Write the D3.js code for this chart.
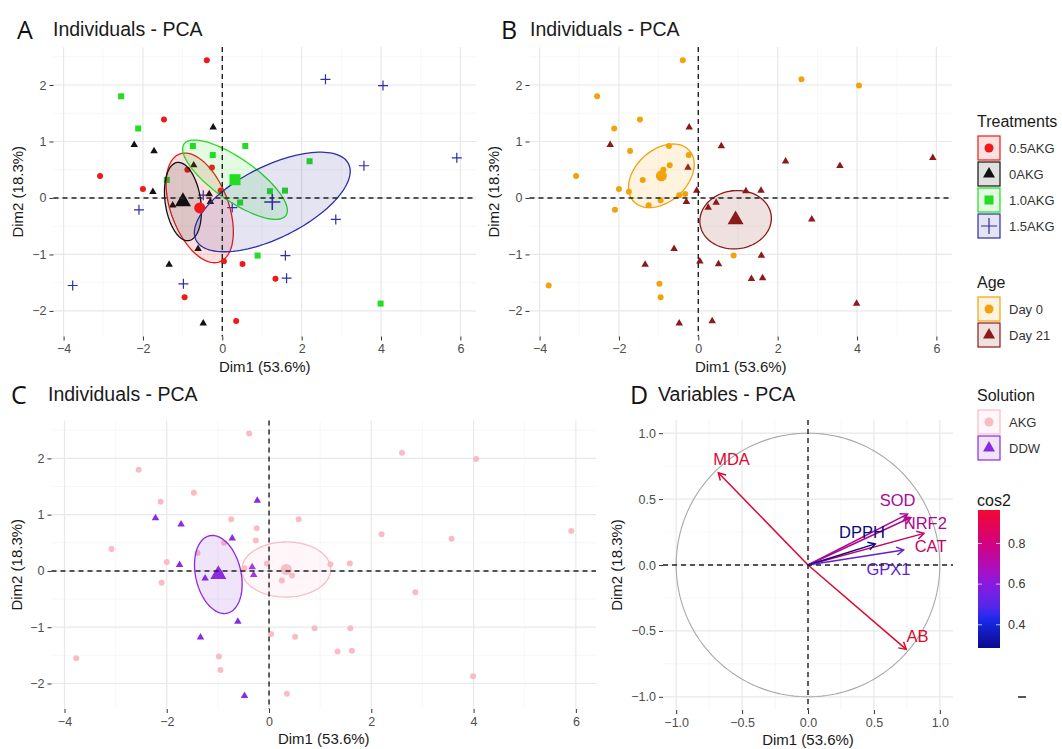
<!DOCTYPE html>
<html>
<head>
<meta charset="utf-8">
<script src="https://cdn.jsdelivr.net/npm/d3@7"></script>
<style>
  body { margin: 0; background: #fff; }
  svg { font-family: "Liberation Sans", Arial, sans-serif; }
</style>
</head>
<body>
<svg id="fig" width="1062" height="749"></svg>
<script>
// individuals: PCA scores (Day 0 first, then Day 21)
const dim1 = [-0.39, 2.60, 4.05, -2.55, -1.47, -2.12, -1.72, -0.74, -0.24, -0.72, -3.08, -1.40,
              -2.00, -1.75, -0.48, -0.33, -0.95, -1.25, -2.10, 0.89, -3.77, -0.98, -0.95, -0.88,
              -0.23, -2.22, 0.58, 2.20, 3.57, 5.91, -0.26, -0.04, 1.20, 1.58, -0.30, 0.45,
              0.25, 2.86, -0.61, 1.59, 0.04, 0.51, -1.34, 1.34, 1.62, 3.99, -0.48, 0.35];
const dim2 = [2.44, 2.10, 1.99, 1.80, 1.39, 1.23, 0.83, 0.92, 0.76, 0.58, 0.39, 0.32,
              0.16, 0.11, 0.05, 0.07, -0.04, -0.13, -0.21, -1.02, -1.55, -1.52, -1.76, 0.50,
              1.25, 0.94, 0.92, 0.65, 0.57, 0.71, 0.54, 0.13, 0.12, 0.13, -0.07, -0.08,
              -0.17, -0.38, -0.90, -1.02, -1.12, -1.17, -1.18, -1.43, -1.42, -1.87, -2.22, -2.18];
const treatment = ["0.5AKG","1.5AKG","1.5AKG","1.0AKG","0.5AKG","1.0AKG","0AKG","1.0AKG","1.0AKG","0AKG","0.5AKG","1.0AKG",
                   "0.5AKG","0AKG","1.5AKG","0AKG","0AKG","0AKG","1.5AKG","1.0AKG","1.5AKG","1.5AKG","0.5AKG","0.5AKG",
                   "0AKG","0AKG","1.0AKG","1.0AKG","1.5AKG","1.5AKG","0.5AKG","0.5AKG","1.0AKG","1.0AKG","0AKG","1.0AKG",
                   "1.5AKG","1.5AKG","0AKG","1.5AKG","0.5AKG","0.5AKG","0AKG","0.5AKG","1.5AKG","1.0AKG","0AKG","0.5AKG"];
const age = ["Day 0","Day 0","Day 0","Day 0","Day 0","Day 0","Day 0","Day 0","Day 0","Day 0","Day 0","Day 0",
             "Day 0","Day 0","Day 0","Day 0","Day 0","Day 0","Day 0","Day 0","Day 0","Day 0","Day 0","Day 0",
             "Day 21","Day 21","Day 21","Day 21","Day 21","Day 21","Day 21","Day 21","Day 21","Day 21","Day 21","Day 21",
             "Day 21","Day 21","Day 21","Day 21","Day 21","Day 21","Day 21","Day 21","Day 21","Day 21","Day 21","Day 21"];
const solution = treatment.map(t => t === "0AKG" ? "DDW" : "AKG");

const trtLevels = ["0.5AKG", "0AKG", "1.0AKG", "1.5AKG"];
const ageLevels = ["Day 0", "Day 21"];
const solLevels = ["AKG", "DDW"];

// variables: coordinates on Dim1/Dim2
const varNames = ["MDA", "AB", "SOD", "NRF2", "CAT", "DPPH", "GPX1"];
const varDim1  = [-0.68, 0.745, 0.755, 0.78, 0.88, 0.51, 0.725];
const varDim2  = [0.70, -0.64, 0.386, 0.36, 0.24, 0.16, 0.114];
const varLabX  = [-0.58, 0.83, 0.68, 0.89, 0.93, 0.41, 0.61];
const varLabY  = [0.80, -0.54, 0.49, 0.32, 0.14, 0.25, -0.03];

const indTicksX = [-4, -2, 0, 2, 4, 6], indMinorX = [-5, -3, -1, 1, 3, 5, 7];
const indTicksY = [-2, -1, 0, 1, 2], indMinorY = [-2.5, -1.5, -0.5, 0.5, 1.5, 2.5];
const varTicks = [-1, -0.5, 0, 0.5, 1], varMinor = [-1.25, -0.75, -0.25, 0.25, 0.75, 1.25];
const cos2Ticks = [0.4, 0.6, 0.8];

const FONT = '"Liberation Sans", Arial, sans-serif';
const svg = d3.select("#fig");

const expand = ([a, b]) => { const m = (b - a) * 0.05; return [a - m, b + m]; };
const xdInd = expand(d3.extent(dim1)), ydInd = expand(d3.extent(dim2));

function sym(shape, s) {
  if (shape === "cross") return `M${-s/2},0H${s/2}M0,${-s/2}V${s/2}`;
  if (shape === "circle") return d3.symbol(d3.symbolCircle, Math.PI * s * s / 4)();
  if (shape === "square") return d3.symbol(d3.symbolSquare, s * s)();
  return d3.symbol(d3.symbolTriangle, Math.sqrt(3) / 4 * s * s)();
}
const smallSz = {circle: 6, triangle: 7.5, square: 6, cross: 10};
const meanSz  = {circle: 11, triangle: 16, square: 11, cross: 16};
const keySz   = {circle: 9, triangle: 12, square: 9, cross: 16};

function styleSym(sel, shape, col) {
  if (shape === "cross") sel.attr("fill", "none").attr("stroke", col).attr("stroke-width", 1.2);
  else sel.attr("fill", col).attr("stroke", "none");
}

function frame(o) {
  const x = d3.scaleLinear().domain(o.xd).range([o.l, o.r]);
  const y = d3.scaleLinear().domain(o.yd).range([o.b, o.t]);
  const g = svg.append("g");
  const inX = v => v >= o.xd[0] && v <= o.xd[1], inY = v => v >= o.yd[0] && v <= o.yd[1];
  const grid = g.append("g");
  grid.selectAll(".mnx").data(o.xm.filter(inX)).join("line")
      .attr("x1", d => x(d)).attr("x2", d => x(d)).attr("y1", o.t).attr("y2", o.b)
      .attr("stroke", "#f3f3f3").attr("stroke-width", 0.7);
  grid.selectAll(".mny").data(o.ym.filter(inY)).join("line")
      .attr("y1", d => y(d)).attr("y2", d => y(d)).attr("x1", o.l).attr("x2", o.r)
      .attr("stroke", "#f3f3f3").attr("stroke-width", 0.7);
  grid.selectAll(".mjx").data(o.xt).join("line")
      .attr("x1", d => x(d)).attr("x2", d => x(d)).attr("y1", o.t).attr("y2", o.b)
      .attr("stroke", "#e8e8e8").attr("stroke-width", 1.2);
  grid.selectAll(".mjy").data(o.yt).join("line")
      .attr("y1", d => y(d)).attr("y2", d => y(d)).attr("x1", o.l).attr("x2", o.r)
      .attr("stroke", "#e8e8e8").attr("stroke-width", 1.2);

  const tidy = a => {
    a.select(".domain").remove();
    a.attr("font-family", FONT).attr("font-size", 12.5);
    a.selectAll("line").attr("stroke", "#333").attr("stroke-width", 1);
    a.selectAll("text").attr("fill", "#4d4d4d");
  };
  g.append("g").attr("transform", `translate(0,${o.b})`)
    .call(d3.axisBottom(x).tickValues(o.xt).tickFormat(o.fmt).tickSize(4).tickPadding(4)).call(tidy);
  g.append("g").attr("transform", `translate(${o.l},0)`)
    .call(d3.axisLeft(y).tickValues(o.yt).tickFormat(o.fmt).tickSize(4).tickPadding(3)).call(tidy);

  g.append("text").attr("x", (o.l + o.r) / 2).attr("y", o.b + 35)
    .attr("text-anchor", "middle").attr("font-size", 15).attr("fill", "#1a1a1a").text("Dim1 (53.6%)");
  g.append("text").attr("transform", `translate(${o.l - o.yoff},${(o.t + o.b) / 2}) rotate(-90)`)
    .attr("text-anchor", "middle").attr("font-size", 15).attr("fill", "#1a1a1a").text("Dim2 (18.3%)");

  g.append("text").attr("x", o.lx).attr("y", o.ty + 3).attr("font-family", '"Open Sans", sans-serif')
    .attr("font-size", 25).attr("fill", "#111").text(o.letter);
  g.append("text").attr("x", o.tx).attr("y", o.ty).attr("font-size", 19.5).attr("fill", "#1a1a1a").text(o.title);
  return {g, x, y, o};
}

function zeroLines(f) {
  const {g, x, y, o} = f;
  g.append("line").attr("x1", x(0)).attr("x2", x(0)).attr("y1", o.t).attr("y2", o.b)
    .attr("stroke", "#222").attr("stroke-width", 1.4).attr("stroke-dasharray", "5,4");
  g.append("line").attr("y1", y(0)).attr("y2", y(0)).attr("x1", o.l).attr("x2", o.r)
    .attr("stroke", "#222").attr("stroke-width", 1.4).attr("stroke-dasharray", "5,4");
}

// 95% confidence ellipse of a group mean
function confEllipse(pts) {
  const n = pts.length, mx = d3.mean(pts, p => p[0]), my = d3.mean(pts, p => p[1]);
  let sxx = 0, syy = 0, sxy = 0;
  pts.forEach(p => { const dx = p[0] - mx, dy = p[1] - my; sxx += dx * dx; syy += dy * dy; sxy += dx * dy; });
  const k = (n - 1) * n;
  sxx /= k; syy /= k; sxy /= k;
  const m = (sxx + syy) / 2, d = Math.sqrt(((sxx - syy) / 2) ** 2 + sxy * sxy);
  const l1 = m + d, l2 = Math.max(m - d, 0), th = 0.5 * Math.atan2(2 * sxy, sxx - syy);
  const t = Math.sqrt(5.991465);
  return d3.range(120).map(i => {
    const a = i / 120 * 2 * Math.PI;
    const u = t * Math.sqrt(l1) * Math.cos(a), v = t * Math.sqrt(l2) * Math.sin(a);
    return [mx + u * Math.cos(th) - v * Math.sin(th), my + u * Math.sin(th) + v * Math.cos(th)];
  });
}

function indPanel(f, groupOf, levels, colors, shapes) {
  const {g, x, y} = f;
  const ids = d3.range(dim1.length);
  const shp = i => shapes[levels.indexOf(groupOf[i])];
  g.append("g").selectAll("path").data(ids).join("path")
    .attr("transform", i => `translate(${x(dim1[i])},${y(dim2[i])})`)
    .attr("d", i => sym(shp(i), smallSz[shp(i)]))
    .each(function (i) { styleSym(d3.select(this), shp(i), colors[groupOf[i]]); });

  const line = d3.line().x(p => x(p[0])).y(p => y(p[1])).curve(d3.curveLinearClosed);
  const means = [];
  levels.forEach((lv, k) => {
    const pts = ids.filter(i => groupOf[i] === lv).map(i => [dim1[i], dim2[i]]);
    g.append("path").attr("d", line(confEllipse(pts)))
      .attr("fill", colors[lv]).attr("fill-opacity", 0.13)
      .attr("stroke", colors[lv]).attr("stroke-width", 1.3);
    means.push({lv, shape: shapes[k], mx: d3.mean(pts, p => p[0]), my: d3.mean(pts, p => p[1])});
  });
  g.append("g").selectAll("path").data(means).join("path")
    .attr("transform", m => `translate(${x(m.mx)},${y(m.my)})`)
    .attr("d", m => sym(m.shape, meanSz[m.shape]))
    .each(function (m) {
      styleSym(d3.select(this), m.shape, colors[m.lv]);
      if (m.shape === "cross") d3.select(this).attr("stroke-width", 1.6);
    });
  zeroLines(f);
}

const fmtInt = d3.format("d");
const base = {xd: xdInd, yd: ydInd, xt: indTicksX, xm: indMinorX, yt: indTicksY, ym: indMinorY, fmt: fmtInt, yoff: 31};

const trtColors = {"0.5AKG": "#f01818", "0AKG": "#111111", "1.0AKG": "#22dd22", "1.5AKG": "#2e2ea6"};
const trtShapes = ["circle", "triangle", "square", "cross"];
const ageColors = {"Day 0": "#f0a30a", "Day 21": "#8b1a1a"};
const ageShapes = ["circle", "triangle"];
const solColors = {"AKG": "#f8bcc6", "DDW": "#8a2be2"};
const solShapes = ["circle", "triangle"];

const fA = frame({...base, l: 53.5, r: 476, t: 47, b: 336.5, letter: "A", lx: 17, tx: 53, ty: 36, title: "Individuals - PCA"});
indPanel(fA, treatment, trtLevels, trtColors, trtShapes);
const fB = frame({...base, l: 529.5, r: 952, t: 47, b: 336.5, letter: "B", lx: 501, tx: 530, ty: 36, title: "Individuals - PCA"});
indPanel(fB, age, ageLevels, ageColors, ageShapes);
const fC = frame({...base, l: 51.5, r: 596, t: 420.5, b: 709, letter: "C", lx: 11, tx: 48, ty: 401, title: "Individuals - PCA", yoff: 30});
indPanel(fC, solution, solLevels, solColors, solShapes);

// variables panel
const cos2 = varNames.map((_, i) => varDim1[i] ** 2 + varDim2[i] ** 2);
const cDom = d3.extent(cos2);
const cAt = p => cDom[0] + (cDom[1] - cDom[0]) * p;
const cos2Color = d3.scaleLinear()
  .domain([cAt(0), cAt(0.22), cAt(0.47), cAt(1)])
  .range(["#0a0a8c", "#1a2cf0", "#8a18e0", "#f20a2e"])
  .interpolate(d3.interpolateLab);

const fD = frame({xd: [-1.1, 1.1], yd: [-1.1, 1.1], xt: varTicks, xm: varMinor, yt: varTicks, ym: varMinor,
  fmt: d3.format(".1f"), yoff: 41, l: 663, r: 953, t: 420, b: 710, letter: "D", lx: 630, tx: 658, ty: 401, title: "Variables - PCA"});
{
  const {g, x, y} = fD;
  const circ = d3.range(181).map(i => [Math.cos(i / 90 * Math.PI), Math.sin(i / 90 * Math.PI)]);
  g.append("path").attr("d", d3.line().x(p => x(p[0])).y(p => y(p[1]))(circ))
    .attr("fill", "none").attr("stroke", "#a8a8a8").attr("stroke-width", 1.1);
  const arr = g.append("g");
  varNames.forEach((nm, i) => {
    const x0 = x(0), y0 = y(0), x1 = x(varDim1[i]), y1 = y(varDim2[i]);
    const col = d3.color(cos2Color(cos2[i])).darker(0.25);
    const a = Math.atan2(y1 - y0, x1 - x0), h = 8, w = Math.PI / 6;
    arr.append("line").attr("x1", x0).attr("y1", y0).attr("x2", x1).attr("y2", y1)
      .attr("stroke", col).attr("stroke-width", 1.5);
    arr.append("path")
      .attr("d", `M${x1 - h * Math.cos(a - w)},${y1 - h * Math.sin(a - w)}L${x1},${y1}L${x1 - h * Math.cos(a + w)},${y1 - h * Math.sin(a + w)}`)
      .attr("fill", "none").attr("stroke", col).attr("stroke-width", 1.5);
    arr.append("text").attr("x", x(varLabX[i])).attr("y", y(varLabY[i]))
      .attr("text-anchor", "middle").attr("dy", "0.35em").attr("font-size", 16.5)
      .attr("fill", col).text(nm);
  });
  zeroLines(fD);
}

// legends
const lg = svg.append("g").attr("font-family", FONT);
function legendBlock(title, ty, levels, colors, shapes) {
  lg.append("text").attr("x", 977).attr("y", ty).attr("dy", "0.35em").attr("font-size", 16)
    .attr("fill", "#1a1a1a").text(title);
  levels.forEach((lv, i) => {
    const cy = ty + 27 + 26 * i;
    lg.append("rect").attr("x", 978).attr("y", cy - 12).attr("width", 22).attr("height", 24)
      .attr("fill", colors[lv]).attr("fill-opacity", 0.13).attr("stroke", colors[lv]).attr("stroke-width", 1.2);
    const p = lg.append("path").attr("transform", `translate(989,${cy})`).attr("d", sym(shapes[i], keySz[shapes[i]]));
    styleSym(p, shapes[i], colors[lv]);
    lg.append("text").attr("x", 1009).attr("y", cy).attr("dy", "0.35em").attr("font-size", 13)
      .attr("fill", "#333").text(lv);
  });
}
legendBlock("Treatments", 121, trtLevels, trtColors, trtShapes);
legendBlock("Age", 282, ageLevels, ageColors, ageShapes);
legendBlock("Solution", 395, solLevels, solColors, solShapes);

lg.append("text").attr("x", 977).attr("y", 500).attr("dy", "0.35em").attr("font-size", 16)
  .attr("fill", "#1a1a1a").text("cos2");
const barTop = 510, barBot = 648;
const grad = svg.append("defs").append("linearGradient").attr("id", "cos2grad")
  .attr("x1", 0).attr("y1", 1).attr("x2", 0).attr("y2", 0);
grad.selectAll("stop").data(d3.range(21)).join("stop")
  .attr("offset", k => k / 20).attr("stop-color", k => cos2Color(cAt(k / 20)));
lg.append("rect").attr("x", 978).attr("y", barTop).attr("width", 22).attr("height", barBot - barTop)
  .attr("fill", "url(#cos2grad)");
const cy = d3.scaleLinear().domain(cDom).range([barBot, barTop]);
cos2Ticks.forEach(v => {
  lg.append("line").attr("x1", 978).attr("x2", 982).attr("y1", cy(v)).attr("y2", cy(v)).attr("stroke", "#fff").attr("stroke-opacity", 0.7);
  lg.append("line").attr("x1", 996).attr("x2", 1000).attr("y1", cy(v)).attr("y2", cy(v)).attr("stroke", "#fff").attr("stroke-opacity", 0.7);
  lg.append("text").attr("x", 1008).attr("y", cy(v)).attr("dy", "0.35em").attr("font-size", 12.5)
    .attr("fill", "#333").text(d3.format(".1f")(v));
});
lg.append("line").attr("x1", 1018).attr("x2", 1026).attr("y1", 697).attr("y2", 697)
  .attr("stroke", "#555").attr("stroke-width", 2);
</script>
</body>
</html>
